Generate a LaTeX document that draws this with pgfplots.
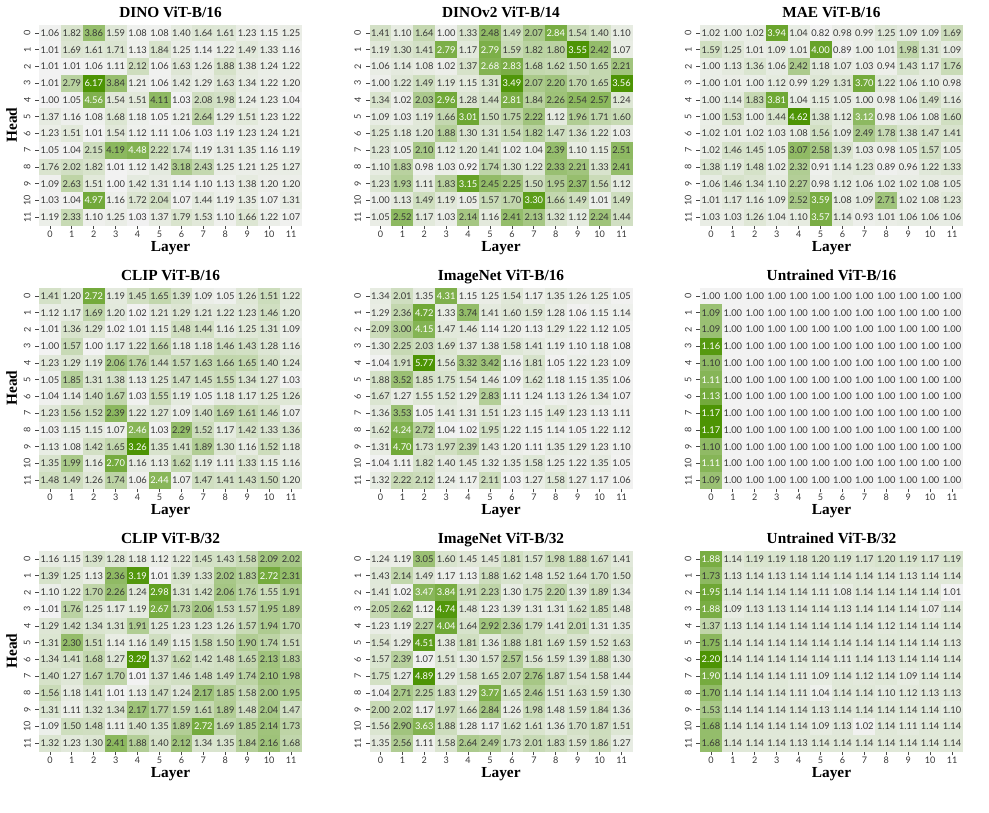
\documentclass[border=0pt]{standalone}
\usepackage{pgfplots}
\pgfplotsset{compat=1.18}
\usepackage{pgfplotstable}
\usepackage{fontspec}
\setmainfont{Liberation Serif}
\newfontfamily\numfont{Lato}

\definecolor{txtdark}{RGB}{55,55,55}
\definecolor{tickgray}{RGB}{70,70,70}

% ---------------- data: rows = heads 0..11, columns = layers 0..11 ----------------
\pgfplotstableread{
c0 c1 c2 c3 c4 c5 c6 c7 c8 c9 c10 c11
1.06 1.82 3.86 1.59 1.08 1.08 1.40 1.64 1.61 1.23 1.15 1.25
1.01 1.69 1.61 1.71 1.13 1.84 1.25 1.14 1.22 1.49 1.33 1.16
1.01 1.01 1.06 1.11 2.12 1.06 1.63 1.26 1.88 1.38 1.24 1.22
1.01 2.79 6.17 3.84 1.21 1.06 1.42 1.29 1.63 1.34 1.22 1.20
1.00 1.05 4.56 1.54 1.51 4.11 1.03 2.08 1.98 1.24 1.23 1.04
1.37 1.16 1.08 1.68 1.18 1.05 1.21 2.64 1.29 1.51 1.23 1.22
1.23 1.51 1.01 1.54 1.12 1.11 1.06 1.03 1.19 1.23 1.24 1.21
1.05 1.04 2.15 4.19 4.48 2.22 1.74 1.19 1.31 1.35 1.16 1.19
1.76 2.02 1.82 1.01 1.12 1.42 3.18 2.43 1.25 1.21 1.25 1.27
1.09 2.63 1.51 1.00 1.42 1.31 1.14 1.10 1.13 1.38 1.20 1.20
1.03 1.04 4.97 1.16 1.72 2.04 1.07 1.44 1.19 1.35 1.07 1.31
1.19 2.33 1.10 1.25 1.03 1.37 1.79 1.53 1.10 1.66 1.22 1.07
}\tblDino

\pgfplotstableread{
c0 c1 c2 c3 c4 c5 c6 c7 c8 c9 c10 c11
1.41 1.10 1.64 1.00 1.33 2.48 1.49 2.07 2.84 1.54 1.40 1.10
1.19 1.30 1.41 2.79 1.17 2.79 1.59 1.82 1.80 3.55 2.42 1.07
1.06 1.14 1.08 1.02 1.37 2.68 2.83 1.68 1.62 1.50 1.65 2.21
1.00 1.22 1.49 1.19 1.15 1.31 3.49 2.07 2.20 1.70 1.65 3.56
1.34 1.02 2.03 2.96 1.28 1.44 2.81 1.84 2.26 2.54 2.57 1.24
1.09 1.03 1.19 1.66 3.01 1.50 1.75 2.22 1.12 1.96 1.71 1.60
1.25 1.18 1.20 1.88 1.30 1.31 1.54 1.82 1.47 1.36 1.22 1.03
1.23 1.05 2.10 1.12 1.20 1.41 1.02 1.04 2.39 1.10 1.15 2.51
1.10 1.83 0.98 1.03 0.92 1.74 1.30 1.22 2.33 2.21 1.33 2.41
1.23 1.93 1.11 1.83 3.15 2.45 2.25 1.50 1.95 2.37 1.56 1.12
1.00 1.13 1.49 1.19 1.05 1.57 1.70 3.30 1.66 1.49 1.01 1.49
1.05 2.52 1.17 1.03 2.14 1.16 2.41 2.13 1.32 1.12 2.24 1.44
}\tblDinoTwo

\pgfplotstableread{
c0 c1 c2 c3 c4 c5 c6 c7 c8 c9 c10 c11
1.02 1.00 1.02 3.94 1.04 0.82 0.98 0.99 1.25 1.09 1.09 1.69
1.59 1.25 1.01 1.09 1.01 4.00 0.89 1.00 1.01 1.98 1.31 1.09
1.00 1.13 1.36 1.06 2.42 1.18 1.07 1.03 0.94 1.43 1.17 1.76
1.00 1.01 1.00 1.12 0.99 1.29 1.31 3.70 1.22 1.06 1.10 0.98
1.00 1.14 1.83 3.81 1.04 1.15 1.05 1.00 0.98 1.06 1.49 1.16
1.00 1.53 1.00 1.44 4.62 1.38 1.12 3.12 0.98 1.06 1.08 1.60
1.02 1.01 1.02 1.03 1.08 1.56 1.09 2.49 1.78 1.38 1.47 1.41
1.02 1.46 1.45 1.05 3.07 2.58 1.39 1.03 0.98 1.05 1.57 1.05
1.38 1.19 1.48 1.02 2.32 0.91 1.14 1.23 0.89 0.96 1.22 1.33
1.06 1.46 1.34 1.10 2.27 0.98 1.12 1.06 1.02 1.02 1.08 1.05
1.01 1.17 1.16 1.09 2.52 3.59 1.08 1.09 2.71 1.02 1.08 1.23
1.03 1.03 1.26 1.04 1.10 3.57 1.14 0.93 1.01 1.06 1.06 1.06
}\tblMae

\pgfplotstableread{
c0 c1 c2 c3 c4 c5 c6 c7 c8 c9 c10 c11
1.41 1.20 2.72 1.19 1.45 1.65 1.39 1.09 1.05 1.26 1.51 1.22
1.12 1.17 1.69 1.20 1.02 1.21 1.29 1.21 1.22 1.23 1.46 1.20
1.01 1.36 1.29 1.02 1.01 1.15 1.48 1.44 1.16 1.25 1.31 1.09
1.00 1.57 1.00 1.17 1.22 1.66 1.18 1.18 1.46 1.43 1.28 1.16
1.23 1.29 1.19 2.06 1.76 1.44 1.57 1.63 1.66 1.65 1.40 1.24
1.05 1.85 1.31 1.38 1.13 1.25 1.47 1.45 1.55 1.34 1.27 1.03
1.04 1.14 1.40 1.67 1.03 1.55 1.19 1.05 1.18 1.17 1.25 1.26
1.23 1.56 1.52 2.39 1.22 1.27 1.09 1.40 1.69 1.61 1.46 1.07
1.03 1.15 1.15 1.07 2.46 1.03 2.29 1.52 1.17 1.42 1.33 1.36
1.13 1.08 1.42 1.65 3.26 1.35 1.41 1.89 1.30 1.16 1.52 1.18
1.35 1.99 1.16 2.70 1.16 1.13 1.62 1.19 1.11 1.33 1.15 1.16
1.48 1.49 1.26 1.74 1.06 2.44 1.07 1.47 1.41 1.43 1.50 1.20
}\tblClipSixteen

\pgfplotstableread{
c0 c1 c2 c3 c4 c5 c6 c7 c8 c9 c10 c11
1.34 2.01 1.35 4.31 1.15 1.25 1.54 1.17 1.35 1.26 1.25 1.05
1.29 2.36 4.72 1.33 3.74 1.41 1.60 1.59 1.28 1.06 1.15 1.14
2.09 3.00 4.15 1.47 1.46 1.14 1.20 1.13 1.29 1.22 1.12 1.05
1.30 2.25 2.03 1.69 1.37 1.38 1.58 1.41 1.19 1.10 1.18 1.08
1.04 1.91 5.77 1.56 3.32 3.42 1.16 1.81 1.05 1.22 1.23 1.09
1.88 3.52 1.85 1.75 1.54 1.46 1.09 1.62 1.18 1.15 1.35 1.06
1.67 1.27 1.55 1.52 1.29 2.83 1.11 1.24 1.13 1.26 1.34 1.07
1.36 3.53 1.05 1.41 1.31 1.51 1.23 1.15 1.49 1.23 1.13 1.11
1.62 4.24 2.72 1.04 1.02 1.95 1.22 1.15 1.14 1.05 1.22 1.12
1.31 4.70 1.73 1.97 2.39 1.43 1.20 1.11 1.35 1.29 1.23 1.10
1.04 1.11 1.82 1.40 1.45 1.32 1.35 1.58 1.25 1.22 1.35 1.05
1.32 2.22 2.12 1.24 1.17 2.11 1.03 1.27 1.58 1.27 1.17 1.06
}\tblImgSixteen

\pgfplotstableread{
c0 c1 c2 c3 c4 c5 c6 c7 c8 c9 c10 c11
1.00 1.00 1.00 1.00 1.00 1.00 1.00 1.00 1.00 1.00 1.00 1.00
1.09 1.00 1.00 1.00 1.00 1.00 1.00 1.00 1.00 1.00 1.00 1.00
1.09 1.00 1.00 1.00 1.00 1.00 1.00 1.00 1.00 1.00 1.00 1.00
1.16 1.00 1.00 1.00 1.00 1.00 1.00 1.00 1.00 1.00 1.00 1.00
1.10 1.00 1.00 1.00 1.00 1.00 1.00 1.00 1.00 1.00 1.00 1.00
1.11 1.00 1.00 1.00 1.00 1.00 1.00 1.00 1.00 1.00 1.00 1.00
1.13 1.00 1.00 1.00 1.00 1.00 1.00 1.00 1.00 1.00 1.00 1.00
1.17 1.00 1.00 1.00 1.00 1.00 1.00 1.00 1.00 1.00 1.00 1.00
1.17 1.00 1.00 1.00 1.00 1.00 1.00 1.00 1.00 1.00 1.00 1.00
1.10 1.00 1.00 1.00 1.00 1.00 1.00 1.00 1.00 1.00 1.00 1.00
1.11 1.00 1.00 1.00 1.00 1.00 1.00 1.00 1.00 1.00 1.00 1.00
1.09 1.00 1.00 1.00 1.00 1.00 1.00 1.00 1.00 1.00 1.00 1.00
}\tblRandSixteen

\pgfplotstableread{
c0 c1 c2 c3 c4 c5 c6 c7 c8 c9 c10 c11
1.16 1.15 1.39 1.28 1.18 1.12 1.22 1.45 1.43 1.58 2.09 2.02
1.39 1.25 1.13 2.36 3.19 1.01 1.39 1.33 2.02 1.83 2.72 2.31
1.10 1.22 1.70 2.26 1.24 2.98 1.31 1.42 2.06 1.76 1.55 1.91
1.01 1.76 1.25 1.17 1.19 2.67 1.73 2.06 1.53 1.57 1.95 1.89
1.29 1.42 1.34 1.31 1.91 1.25 1.23 1.23 1.26 1.57 1.94 1.70
1.31 2.30 1.51 1.14 1.16 1.49 1.15 1.58 1.50 1.90 1.74 1.51
1.34 1.41 1.68 1.27 3.29 1.37 1.62 1.42 1.48 1.65 2.13 1.83
1.40 1.27 1.67 1.70 1.01 1.37 1.46 1.48 1.49 1.74 2.10 1.98
1.56 1.18 1.41 1.01 1.13 1.47 1.24 2.17 1.85 1.58 2.00 1.95
1.31 1.11 1.32 1.34 2.17 1.77 1.59 1.61 1.89 1.48 2.04 1.47
1.09 1.50 1.48 1.11 1.40 1.35 1.89 2.72 1.69 1.85 2.14 1.73
1.32 1.23 1.30 2.41 1.88 1.40 2.12 1.34 1.35 1.84 2.16 1.68
}\tblClipThirtyTwo

\pgfplotstableread{
c0 c1 c2 c3 c4 c5 c6 c7 c8 c9 c10 c11
1.24 1.19 3.05 1.60 1.45 1.45 1.81 1.57 1.98 1.88 1.67 1.41
1.43 2.14 1.49 1.17 1.13 1.88 1.62 1.48 1.52 1.64 1.70 1.50
1.41 1.02 3.47 3.84 1.91 2.23 1.30 1.75 2.20 1.39 1.89 1.34
2.05 2.62 1.12 4.74 1.48 1.23 1.39 1.31 1.31 1.62 1.85 1.48
1.23 1.19 2.27 4.04 1.64 2.92 2.36 1.79 1.41 2.01 1.31 1.35
1.54 1.29 4.51 1.38 1.81 1.36 1.88 1.81 1.69 1.59 1.52 1.63
1.57 2.39 1.07 1.51 1.30 1.57 2.57 1.56 1.59 1.39 1.88 1.30
1.75 1.27 4.89 1.29 1.58 1.65 2.07 2.76 1.87 1.54 1.58 1.44
1.04 2.71 2.25 1.83 1.29 3.77 1.65 2.46 1.51 1.63 1.59 1.30
2.00 2.02 1.17 1.97 1.66 2.84 1.26 1.98 1.48 1.59 1.84 1.36
1.56 2.90 3.63 1.88 1.28 1.17 1.62 1.61 1.36 1.70 1.87 1.51
1.35 2.56 1.11 1.58 2.64 2.49 1.73 2.01 1.83 1.59 1.86 1.27
}\tblImgThirtyTwo

\pgfplotstableread{
c0 c1 c2 c3 c4 c5 c6 c7 c8 c9 c10 c11
1.88 1.14 1.19 1.19 1.18 1.20 1.19 1.17 1.20 1.19 1.17 1.19
1.73 1.13 1.14 1.13 1.14 1.14 1.14 1.14 1.14 1.13 1.14 1.14
1.95 1.14 1.14 1.14 1.14 1.11 1.08 1.14 1.14 1.14 1.14 1.01
1.88 1.09 1.13 1.13 1.14 1.14 1.13 1.14 1.14 1.14 1.07 1.14
1.37 1.13 1.14 1.14 1.14 1.14 1.14 1.14 1.12 1.14 1.14 1.14
1.75 1.14 1.14 1.14 1.14 1.14 1.14 1.14 1.14 1.14 1.14 1.13
2.20 1.14 1.14 1.14 1.14 1.14 1.11 1.14 1.13 1.14 1.14 1.14
1.90 1.14 1.14 1.14 1.11 1.09 1.14 1.12 1.14 1.09 1.14 1.14
1.70 1.14 1.14 1.14 1.11 1.04 1.14 1.14 1.10 1.12 1.13 1.13
1.53 1.14 1.14 1.14 1.14 1.13 1.14 1.14 1.14 1.14 1.14 1.10
1.68 1.14 1.14 1.14 1.14 1.09 1.13 1.02 1.14 1.11 1.14 1.14
1.68 1.14 1.14 1.14 1.13 1.14 1.14 1.14 1.14 1.14 1.14 1.14
}\tblRandThirtyTwo

\pgfplotsset{
  heat/.style={
    scale only axis, width=197.25pt, height=150.75pt,
    anchor=north west,
    xmin=-0.5, xmax=11.5, ymin=-0.5, ymax=11.5, y dir=reverse,
    axis line style={draw=none},
    xtick={0,...,11}, ytick={0,...,11}, tick pos=left,
    tick align=outside, major tick length=2.8pt,
    tick style={line width=0.6pt, color=tickgray},
    /pgf/number format/assume math mode=true,
    tick label style={font=\numfont\fontsize{6.8}{7}\selectfont, text=txtdark},
    xticklabel style={yshift=2.3pt},
    yticklabel style={rotate=90, anchor=south},
    colormap={greens}{rgb255=(242,242,242) rgb255=(77,148,4)},
    every axis title shift=0pt,
    title style={font=\bfseries\fontsize{11.5}{13}\selectfont,
      at={(axis description cs:0.5,1.035)}, anchor=base},
    xlabel={Layer},
    xlabel style={font=\bfseries\fontsize{11.5}{13}\selectfont,
      at={(axis description cs:0.5,-0.1313)}, anchor=base},
    ylabel style={font=\bfseries\fontsize{11.5}{13}\selectfont,
      at={(axis description cs:-0.0837,0.5)}, anchor=base},
  },
  % filled cell: a square mark stretched to the cell's 16.44pt x 12.56pt
  cells/.style={scatter, only marks, mark=square*, mark size=6.1pt,
    mark options={xscale=1.309, line width=0.4pt},
    scatter/use mapped color={draw=mapped color, fill=mapped color}},
}

% #1,#2: top-left corner of the cell block (pt, measured downwards);
% #3 title; #4 table; #5 colour level (per mille of the range) above which
% the annotation is white; #6 extra axis options
\newcommand{\heatmap}[6]{%
  \begin{axis}[heat, at={(#1,-#2)}, title={#3}, #6]
    \pgfplotsinvokeforeach{0,...,11}{%
      \addplot[cells, point meta=\thisrow{c##1}]
        table[x expr=##1, y expr=\coordindex] {#4};
    }
    \pgfplotsinvokeforeach{0,...,11}{%
      \addplot[draw=none, mark=none, point meta=\thisrow{c##1},
        nodes near coords={\ifdim\pgfplotspointmetatransformed pt>#5pt\color{white}\fi
          \pgfmathprintnumber[fixed,fixed zerofill,precision=2]{\pgfplotspointmeta}},
        every node near coord/.append style={anchor=center, inner sep=0pt,
          font=\numfont\fontsize{7}{8}\selectfont, text=txtdark}
      ] table[x expr=##1, y expr=\coordindex] {#4};
    }
  \end{axis}}

\begin{document}
\begin{tikzpicture}
\useasboundingbox (0,0) rectangle (741.75pt,-609.75pt);

\heatmap{29.25pt}{18.45pt}{DINO ViT-B/16}{\tblDino}{638}{ylabel={Head}}
\heatmap{277.125pt}{18.45pt}{DINOv2 ViT-B/14}{\tblDinoTwo}{636}{}
\heatmap{525pt}{18.45pt}{MAE ViT-B/16}{\tblMae}{600}{}

\heatmap{29.25pt}{215.7pt}{CLIP ViT-B/16}{\tblClipSixteen}{628}{ylabel={Head}}
\heatmap{277.125pt}{215.7pt}{ImageNet ViT-B/16}{\tblImgSixteen}{627}{}
\heatmap{525pt}{215.7pt}{Untrained ViT-B/16}{\tblRandSixteen}{618}{}

\heatmap{29.25pt}{412.95pt}{CLIP ViT-B/32}{\tblClipThirtyTwo}{653}{ylabel={Head}}
\heatmap{277.125pt}{412.95pt}{ImageNet ViT-B/32}{\tblImgThirtyTwo}{589}{}
\heatmap{525pt}{412.95pt}{Untrained ViT-B/32}{\tblRandThirtyTwo}{664}{}
\end{tikzpicture}
\end{document}
